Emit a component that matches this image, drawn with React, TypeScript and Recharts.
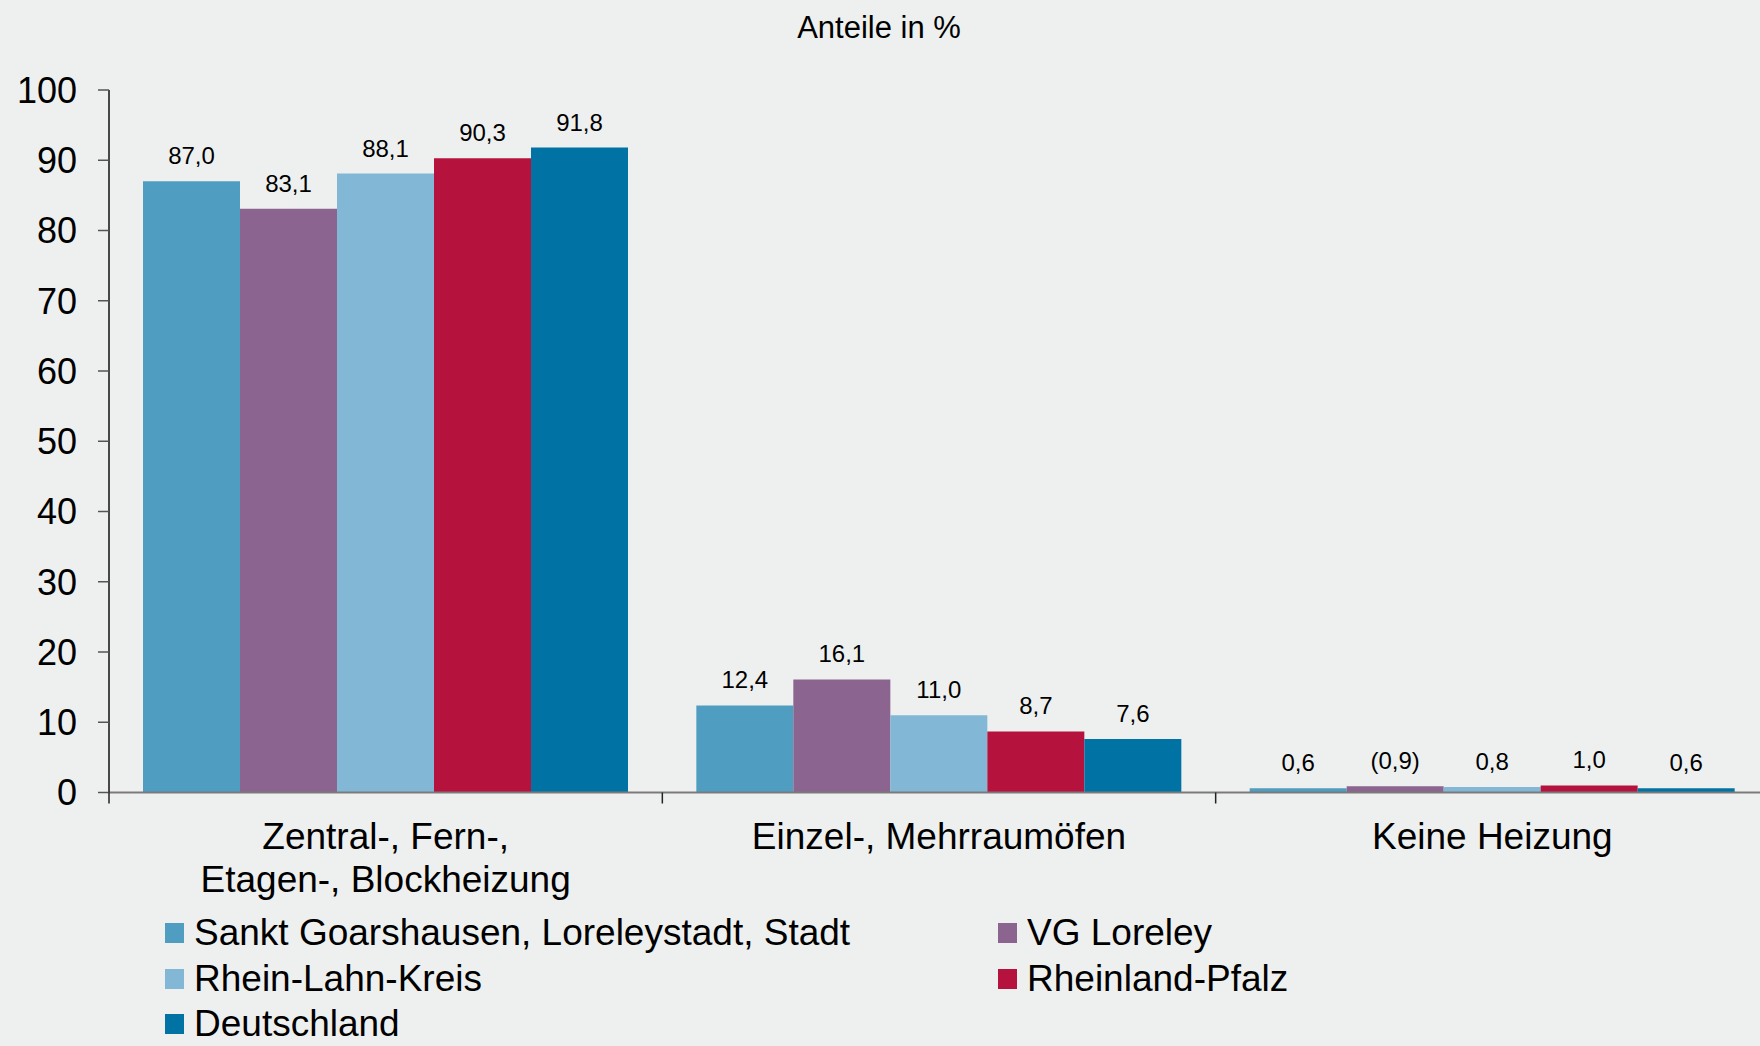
import React from "react";
import { BarChart, Bar, XAxis, YAxis, Legend, LabelList } from "recharts";

const categories = ["Zentral-, Fern-,\nEtagen-, Blockheizung", "Einzel-, Mehrraumöfen", "Keine Heizung"];
const sanktGoarshausen = [87.0, 12.4, 0.6];
const vgLoreley = [83.1, 16.1, 0.9];
const rheinLahnKreis = [88.1, 11.0, 0.8];
const rheinlandPfalz = [90.3, 8.7, 1.0];
const deutschland = [91.8, 7.6, 0.6];
const vgLoreleyBracketed = [false, false, true];
const yTicks = [0, 10, 20, 30, 40, 50, 60, 70, 80, 90, 100];

const seriesNames = [
  "Sankt Goarshausen, Loreleystadt, Stadt",
  "VG Loreley",
  "Rhein-Lahn-Kreis",
  "Rheinland-Pfalz",
  "Deutschland",
];
const seriesValues = [sanktGoarshausen, vgLoreley, rheinLahnKreis, rheinlandPfalz, deutschland];
const seriesColors = ["#4F9EC2", "#8B658F", "#82B8D5", "#B5133D", "#0073A4"];
const bracketed = [null, vgLoreleyBracketed, null, null, null];

const FONT = "'Liberation Sans', Arial, Helvetica, sans-serif";

const fmt = (v: number, br: boolean) => {
  const s = v.toFixed(1).replace(".", ",");
  return br ? `(${s})` : s;
};

const data = categories.map((c, i) => {
  const row: any = { category: c };
  seriesValues.forEach((vals, s) => {
    row[`s${s}`] = vals[i];
    const b = bracketed[s];
    row[`l${s}`] = fmt(vals[i], b ? b[i] : false);
  });
  return row;
});

const CategoryTick = (props: any) => {
  const { x, y, payload, index, visibleTicksCount } = props;
  const lines = String(payload.value).split("\n");
  const half = typeof payload.offset === "number" ? payload.offset : 0;
  const last = index === (visibleTicksCount ?? categories.length) - 1;
  return (
    <g>
      {half > 0 && (
        <line x1={x - half} x2={x - half} y1={y} y2={y + 11} stroke="#222" strokeWidth={1.5} />
      )}
      {half > 0 && last && (
        <line x1={x + half} x2={x + half} y1={y} y2={y + 11} stroke="#222" strokeWidth={1.5} />
      )}
      {lines.map((ln, i) => (
        <text
          key={i}
          x={x}
          y={y + 44 + i * 43}
          textAnchor="middle"
          dominantBaseline="central"
          fontSize={37}
          fontFamily={FONT}
          fill="#000"
        >
          {ln}
        </text>
      ))}
    </g>
  );
};

const LegendGrid = (props: any) => {
  const payload = props.payload || [];
  const colX = [165, 998];
  const rowY = [27, 73, 118];
  return (
    <div style={{ position: "relative", width: 1780, height: 140 }}>
      {payload.map((p: any) => {
        const i = seriesNames.indexOf(p.value);
        const col = i % 2;
        const row = Math.floor(i / 2);
        return (
          <div
            key={p.value}
            style={{
              position: "absolute",
              left: colX[col],
              top: rowY[row] - 22,
              height: 44,
              display: "flex",
              alignItems: "center",
              whiteSpace: "nowrap",
            }}
          >
            <div style={{ width: 19, height: 20, background: p.color, marginRight: 10 }} />
            <span style={{ fontFamily: FONT, fontSize: 37, color: "#000" }}>{p.value}</span>
          </div>
        );
      })}
    </div>
  );
};

export default function App() {
  return (
    <div
      style={{
        position: "fixed",
        left: 0,
        top: 0,
        width: 1760,
        height: 1046,
        overflow: "hidden",
        background: "#EEF0EF",
      }}
    >
      <div
        style={{
          position: "absolute",
          left: 0,
          width: 1758,
          top: 10,
          textAlign: "center",
          fontFamily: FONT,
          fontSize: 31,
          lineHeight: "36px",
          color: "#000",
        }}
      >
        Anteile in %
      </div>
      <BarChart
        width={1780}
        height={1046}
        data={data}
        margin={{ top: 90, right: 11, left: 0, bottom: 0 }}
        barCategoryGap={34}
        barGap={0}
      >
        <XAxis
          dataKey="category"
          type="category"
          height={113.5}
          axisLine={{ stroke: "#7A7A7A", strokeWidth: 2 }}
          tickLine={false}
          tickSize={0}
          tickMargin={0}
          interval={0}
          tick={<CategoryTick />}
        />
        <YAxis
          width={109}
          domain={[0, 100]}
          ticks={yTicks}
          interval={0}
          axisLine={{ stroke: "#111", strokeWidth: 1.5 }}
          tickLine={{ stroke: "#555", strokeWidth: 1.5 }}
          tickSize={11}
          tickMargin={21}
          tick={{ fontSize: 36, fontFamily: FONT, fill: "#000" }}
        />
        <Legend verticalAlign="bottom" height={140} content={<LegendGrid />} />
        {seriesNames.map((name, s) => (
          <Bar
            key={name}
            dataKey={`s${s}`}
            name={name}
            fill={seriesColors[s]}
            isAnimationActive={false}
          >
            <LabelList
              dataKey={`l${s}`}
              position="top"
              offset={17}
              fontSize={24}
              fontFamily={FONT}
              fill="#000"
            />
          </Bar>
        ))}
      </BarChart>
    </div>
  );
}
